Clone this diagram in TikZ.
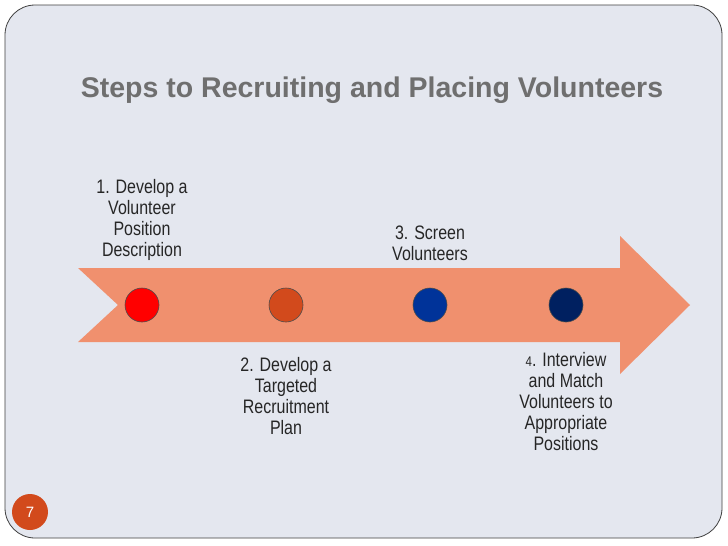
\documentclass[tikz,border=0pt]{standalone}
\usepackage{fontspec}
\setmainfont{Liberation Sans}
\newfontfamily\narrowf[FakeStretch=0.82]{Liberation Sans}
\definecolor{panel}{HTML}{E4E7EF}
\definecolor{arrowc}{HTML}{F0906E}
\definecolor{titlec}{HTML}{6F6F6F}
\definecolor{orng}{HTML}{D24A1C}
\begin{document}
\begin{tikzpicture}[x=1pt,y=-1pt,
  dot/.style={circle,draw=black!70,line width=0.6pt,minimum size=34pt,inner sep=0pt},
  lbl/.style={align=center,font=\narrowf\fontsize{19.5}{21}\selectfont,text=black!85}]
\useasboundingbox (0,0) rectangle (728,546);
\fill[white] (0,0) rectangle (728,546);
\draw[fill=panel,draw=black!75,line width=0.8pt,rounded corners=30pt] (5,5) rectangle (722,538);
\node (title) at (372,90) {\fontsize{28.5}{30}\selectfont\bfseries\color{titlec}Steps to Recruiting and Placing Volunteers};
\fill[arrowc] (78,268) -- (620,268) -- (620,236) -- (690,305) -- (620,374) -- (620,342) -- (78,342) -- (118,305) -- cycle;
\node[dot,fill=red] (c1) at (142,305) {};
\node[dot,fill=orng] (c2) at (286,305) {};
\node[dot,fill={rgb,255:red,0;green,51;blue,153}] (c3) at (430,305) {};
\node[dot,fill={rgb,255:red,0;green,32;blue,96}] (c4) at (566,305) {};
\node[lbl,anchor=south] (t1) at (142,264) {1. Develop a\\Volunteer\\Position\\Description};
\node[lbl,anchor=south] (t3) at (430,264) {3. Screen\\Volunteers};
\node[lbl,anchor=north] (t2) at (286,354) {2. Develop a\\Targeted\\Recruitment\\Plan};
\node[lbl,anchor=north] (t4) at (566,349) {{\fontsize{14}{21}\selectfont 4}. Interview\\and Match\\Volunteers to\\Appropriate\\Positions};
\node[circle,fill=orng,minimum size=36pt,inner sep=0pt,text=white,font=\fontsize{15}{17}\selectfont] (pg) at (30,512) {7};
\end{tikzpicture}
\end{document}
